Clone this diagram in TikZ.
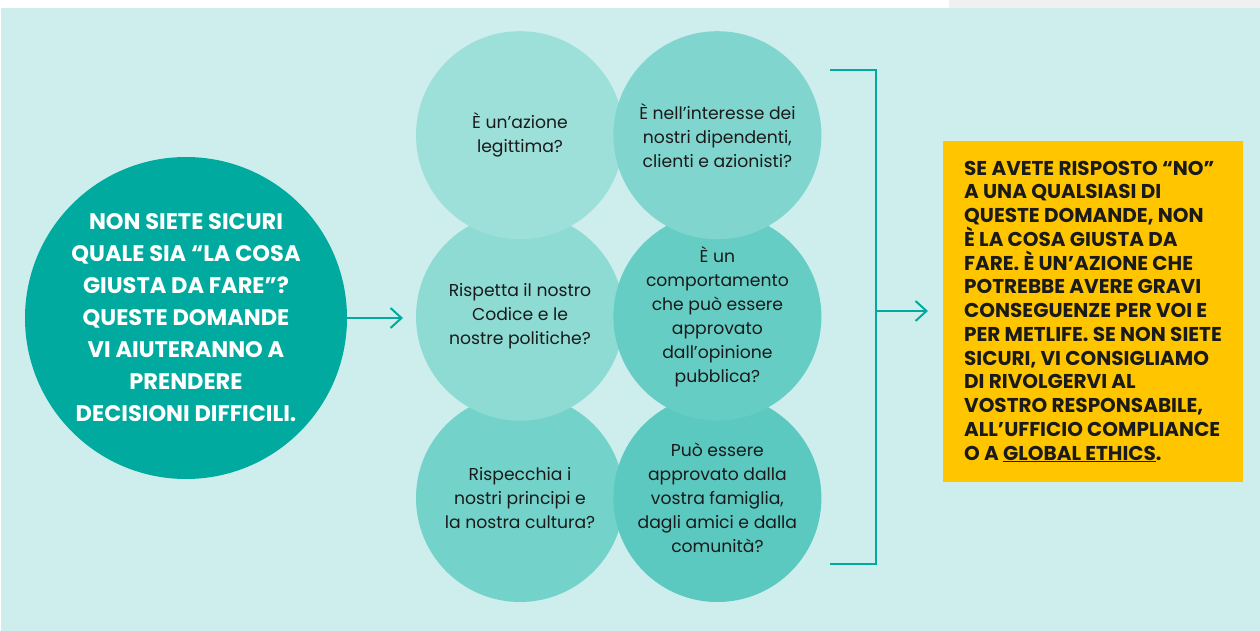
\documentclass[tikz,border=0pt]{standalone}
\usepackage{fontspec}
\setmainfont{Poppins}
\usepackage{tikz}
\usetikzlibrary{positioning}
\usetikzlibrary{arrows.meta}

\definecolor{sfondo}{HTML}{CDEEEC}
\definecolor{grigio}{HTML}{F0F0F0}
\definecolor{verde}{HTML}{00AA9E}
\definecolor{giallo}{HTML}{FFC600}
\definecolor{scuro}{HTML}{1A1A1A}
\definecolor{c1}{HTML}{9DE0DA}
\definecolor{c2}{HTML}{80D6CF}
\definecolor{c3}{HTML}{8EDBD4}
\definecolor{c4}{HTML}{66CDC5}
\definecolor{c5}{HTML}{73D3CB}
\definecolor{c6}{HTML}{5BC9C0}

\begin{document}
\begin{tikzpicture}[x=1pt, y=-1pt,
    roundnode/.style={circle, inner sep=0pt, minimum size=208pt, align=center, text=scuro, font=\fontsize{17.2}{24}\selectfont},
    freccia/.style={-{Straight Barb[length=11pt, width=20pt, line width=2pt]}, line width=2pt, draw=verde},
    node distance=-27pt and -11pt]
    \useasboundingbox (0,0) rectangle (1260,631);
    \fill[white] (0,0) rectangle (1260,631);
    \fill[grigio] (949,0) rectangle (1260,8);
    \fill[sfondo] (1,8) rectangle (1260,631);

    % domande, dal basso verso l'alto
    \node[roundnode, fill=c5]    (principi)    at (520,498) {Rispecchia i\\nostri principi e\\la nostra cultura?};
    \node[roundnode, fill=c6]    (famiglia)    [right=of principi] {Può essere\\approvato dalla\\vostra famiglia,\\dagli amici e dalla\\comunità?};
    \node[roundnode, fill=c3]    (codice)      [above=of principi] {Rispetta il nostro\\Codice e le\\nostre politiche?};
    \node[roundnode, fill=c4]    (opinione)    [above=of famiglia] {È un\\comportamento\\che può essere\\approvato\\dall’opinione\\pubblica?};
    \node[roundnode, fill=c1]    (legale)      [above=of codice] {È un’azione\\legittima?};
    \node[roundnode, fill=c2]    (interesse)   [above=of opinione] {È nell’interesse dei\\nostri dipendenti,\\clienti e azionisti?};

    \node[circle, inner sep=0pt, minimum size=322pt, fill=verde, align=center, text=white, font=\bfseries\fontsize{22.5}{32}\selectfont] (dubbio) at (186,318)
        {NON SIETE SICURI\\QUALE SIA “LA COSA\\GIUSTA DA FARE”?\\QUESTE DOMANDE\\VI AIUTERANNO A\\PRENDERE\\DECISIONI DIFFICILI.};

    \node[fill=giallo, minimum width=300pt, minimum height=341pt, align=left, text=scuro, font=\bfseries\fontsize{20}{23.75}\selectfont] (risposta) at (1093,311.5)
        {SE AVETE RISPOSTO “NO”\\A UNA QUALSIASI DI\\QUESTE DOMANDE, NON\\È LA COSA GIUSTA DA\\FARE. È UN’AZIONE CHE\\POTREBBE AVERE GRAVI\\CONSEGUENZE PER VOI E\\PER METLIFE. SE NON SIETE\\SICURI, VI CONSIGLIAMO\\DI RIVOLGERVI AL\\VOSTRO RESPONSABILE,\\ALL’UFFICIO COMPLIANCE\\O A \underline{GLOBAL ETHICS}.};

    \coordinate (entrata) at (403,318);
    \coordinate (graffasu) at (830,70);
    \coordinate (graffagiu) at (830,564);
    \coordinate (snodo) at (876,311);
    \coordinate (uscita) at (928,311);

    \path (dubbio) edge[freccia] (entrata);
    \draw[verde, line width=2.4pt] (graffasu) -| (snodo) |- (graffagiu);
    \path (snodo) edge[freccia] (uscita);
\end{tikzpicture}
\end{document}
